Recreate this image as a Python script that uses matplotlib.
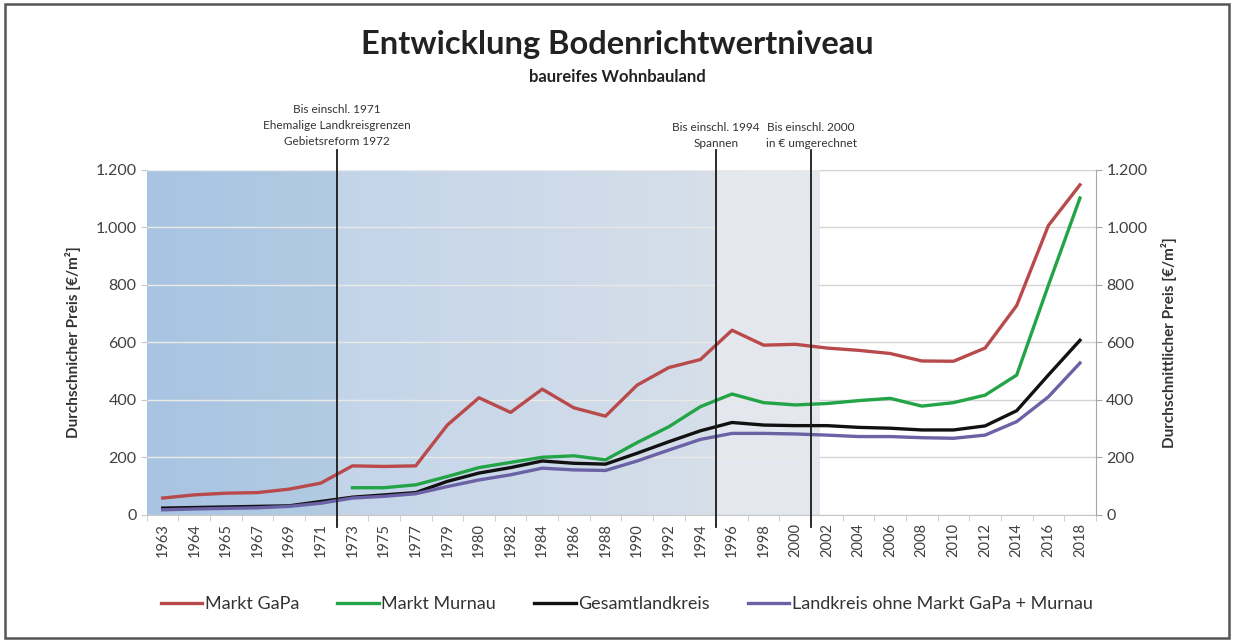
import numpy as np
import matplotlib
matplotlib.use("Agg")
import matplotlib.pyplot as plt
from matplotlib.patches import Rectangle
from matplotlib.ticker import FuncFormatter
import matplotlib.transforms as mtransforms

plt.rcParams['font.family'] = ['Lato', 'DejaVu Sans']

years = ['1963', '1964', '1965', '1967', '1969', '1971', '1973', '1975', '1977', '1979',
         '1980', '1982', '1984', '1986', '1988', '1990', '1992', '1994', '1996', '1998',
         '2000', '2002', '2004', '2006', '2008', '2010', '2012', '2014', '2016', '2018']
nan = np.nan
markt_gapa = [58, 69, 75, 77, 89, 110, 170, 168, 170, 312, 407, 356, 437, 372, 343,
              451, 512, 540, 642, 590, 593, 580, 572, 561, 535, 534, 580, 728, 1006, 1148]
markt_murnau = [nan, nan, nan, nan, nan, nan, 94, 94, 104, 133, 164, 182, 200, 205, 191,
                251, 306, 376, 420, 390, 382, 387, 397, 405, 378, 390, 416, 486, 798, 1102]
gesamtlandkreis = [23, 25, 27, 29, 31, 46, 61, 69, 77, 116, 145, 164, 187, 179, 176,
                   214, 254, 292, 321, 312, 310, 310, 304, 301, 295, 295, 309, 362, 486, 607]
landkreis_ohne = [17, 20, 22, 24, 29, 40, 58, 64, 73, 98, 121, 139, 162, 156, 154,
                  187, 225, 262, 283, 283, 281, 277, 272, 272, 268, 266, 277, 324, 410, 528]

series_names = ['Markt GaPa', 'Markt Murnau', 'Gesamtlandkreis',
                'Landkreis ohne Markt GaPa + Murnau']
series_colors = ['#b94a4c', '#22a447', '#111111', '#6b62a6']

# break markers (between categories)
breaks = [5.5, 17.5, 20.5]
break_texts = ['Bis einschl. 1971\nEhemalige Landkreisgrenzen\nGebietsreform 1972',
               'Bis einschl. 1994\nSpannen',
               'Bis einschl. 2000\nin € umgerechnet']

fig = plt.figure(figsize=(12.34, 6.41), dpi=100)
ax = fig.add_axes([0.119, 0.197, 0.769, 0.538])
x = np.arange(len(years))

# background shading
N = 600
shade_end = 20.75
xs = np.linspace(-0.5, shade_end, N)
img = np.ones((1, N, 3))
c_left0 = np.array([168, 196, 226]) / 255
c_left1 = np.array([178, 203, 226]) / 255
c_mid0 = np.array([195, 212, 233]) / 255
c_mid1 = np.array([214, 223, 234]) / 255
c_grey = np.array([228, 232, 238]) / 255
for i, xv in enumerate(xs):
    if xv < 5.5:
        t = (xv + 0.5) / 6.0
        img[0, i] = c_left0 * (1 - t) + c_left1 * t
    elif xv < 17.5:
        t = (xv - 5.5) / 12.0
        img[0, i] = c_mid0 * (1 - t) + c_mid1 * t
    else:
        img[0, i] = c_grey
ax.imshow(img, extent=[-0.5, shade_end, 0, 1200], aspect='auto', zorder=0,
          interpolation='bilinear')
ax.set_xlim(-0.5, len(years) - 0.5)
ax.set_ylim(0, 1200)

yticks = np.arange(0, 1201, 200)
ax.set_axisbelow(True)
ax.yaxis.grid(True, color='#d4d4d4', linewidth=1.0)
# lighter grid over the shaded area
ax.hlines(yticks[1:], -0.5, shade_end, colors='white', alpha=0.5, linewidth=1.0, zorder=1)
ax.set_yticks(yticks)
fmt = FuncFormatter(lambda v, p: f'{int(v):,}'.replace(',', '.'))
ax.yaxis.set_major_formatter(fmt)

for vals, name, col in zip([markt_gapa, markt_murnau, gesamtlandkreis, landkreis_ohne],
                           series_names, series_colors):
    ax.plot(x, vals, color=col, linewidth=2.4, label=name, zorder=3,
            solid_joinstyle='round')

trans = mtransforms.blended_transform_factory(ax.transData, ax.transAxes)
for b, txt in zip(breaks, break_texts):
    ax.plot([b, b], [-0.035, 1.058], transform=trans, color='#1a1a1a',
            linewidth=1.3, clip_on=False, zorder=4)
    ax.text(b, 1.19 if txt.count('\n') == 2 else 1.14, txt, transform=trans,
            ha='center', va='top', fontsize=8.5, color='#333333', linespacing=1.55)

ax.set_xticks(x)
ax.set_xticklabels(years, rotation=90, fontsize=10.5, color='#404040')
ax.set_xticks(np.arange(-0.5, len(years), 1), minor=True)
ax.tick_params(axis='x', which='major', length=0, pad=6)
ax.tick_params(axis='x', which='minor', length=4, color='#c8c8c8')
ax.tick_params(axis='y', labelsize=11.5, colors='#404040', length=4, color='#c8c8c8')
for s in ['top', 'right', 'left']:
    ax.spines[s].set_visible(False)
ax.spines['bottom'].set_color('#c8c8c8')
ax.set_ylabel('Durchschnicher Preis [€/m²]', fontsize=11, fontweight='bold',
              color='#333333', labelpad=10)

ax2 = ax.twinx()
ax2.set_ylim(0, 1200)
ax2.set_yticks(yticks)
ax2.yaxis.set_major_formatter(fmt)
ax2.tick_params(axis='y', labelsize=11.5, colors='#404040', length=4, color='#a6a6a6')
for s in ['top', 'left', 'bottom']:
    ax2.spines[s].set_visible(False)
ax2.spines['right'].set_color('#a6a6a6')
ax2.set_ylabel('Durchschnittlicher Preis [€/m²]', fontsize=11, fontweight='bold',
               color='#333333', labelpad=10)

fig.text(0.5, 0.93, 'Entwicklung Bodenrichtwertniveau', ha='center', va='center',
         fontsize=23.5, fontweight='bold', color='#222222')
fig.text(0.5, 0.88, 'baureifes Wohnbauland', ha='center', va='center',
         fontsize=12, fontweight='bold', color='#222222')

handles, labels = ax.get_legend_handles_labels()
fig.legend(handles, labels, loc='center', bbox_to_anchor=(0.508, 0.057), ncol=4,
           frameon=False, fontsize=13, handlelength=2.3, columnspacing=2.1,
           handletextpad=0.15, labelcolor='#333333')

fig.patches.append(Rectangle((0.004, 0.004), 0.992, 0.99, transform=fig.transFigure,
                             fill=False, edgecolor='#555555', linewidth=1.8))

fig.savefig('out.png', dpi=100, facecolor='white')
